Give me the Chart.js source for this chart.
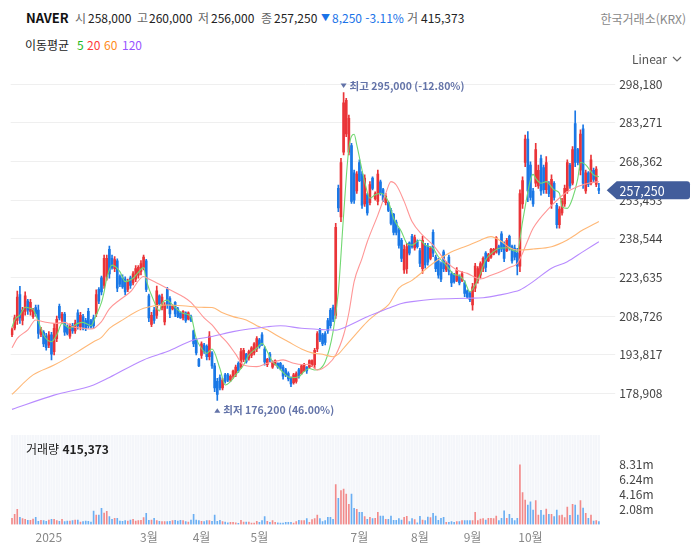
<!DOCTYPE html>
<html lang="ko">
<head>
<meta charset="utf-8">
<title>NAVER</title>
<script src="https://cdn.jsdelivr.net/npm/chart.js@4.4.1/dist/chart.umd.min.js"></script>
<style>
  html, body { margin: 0; padding: 0; background: #fff; }
  body { font-family: 'Noto Sans CJK KR', 'Noto Sans', sans-serif; }
  #wrap { position: relative; width: 698px; height: 560px; overflow: hidden; }
  canvas { position: absolute; left: 0; }
  .t { position: absolute; white-space: nowrap; font-size: 12px; line-height: 16px; color: #222; z-index: 2; }
  .g { color: #666; }
</style>
</head>
<body>
<div id="wrap">
  <canvas id="price" width="698" height="360" style="top:65px"></canvas>
  <canvas id="vol" width="698" height="135" style="top:425px"></canvas>

  <span class="t" style="left:26px;top:10px;font-weight:bold;font-size:13px;color:#111">NAVER</span>
  <span class="t g" style="left:75px;top:10px">시</span>
  <span class="t" style="left:88px;top:10px">258,000</span>
  <span class="t g" style="left:137px;top:10px">고</span>
  <span class="t" style="left:149px;top:10px">260,000</span>
  <span class="t g" style="left:198px;top:10px">저</span>
  <span class="t" style="left:211px;top:10px">256,000</span>
  <span class="t g" style="left:261px;top:10px">종</span>
  <span class="t" style="left:274px;top:10px">257,250</span>
  <span class="t" style="left:321px;top:10px;color:#1a73e8;font-size:9px">▼</span>
  <span class="t" style="left:332px;top:10px;color:#1a73e8">8,250 -3.11%</span>
  <span class="t g" style="left:407px;top:10px">거</span>
  <span class="t" style="left:421px;top:10px">415,373</span>
  <span class="t" style="right:12px;top:11px;color:#888">한국거래소(KRX)</span>

  <span class="t" style="left:25px;top:37px">이동평균</span>
  <span class="t" style="left:77px;top:37px;color:#22bb22">5</span>
  <span class="t" style="left:87px;top:37px;color:#ff3b3b">20</span>
  <span class="t" style="left:104px;top:37px;color:#ff8c1a">60</span>
  <span class="t" style="left:122px;top:37px;color:#9a55ff">120</span>

  <span class="t" style="left:632px;top:51px;color:#555">Linear</span>
  <svg style="position:absolute;left:671px;top:55px" width="12" height="8"><polyline points="2,2 6,6 10,2" fill="none" stroke="#666" stroke-width="1.2"/></svg>

  <span class="t" style="left:26px;top:441px">거래량 <b>415,373</b></span>
</div>

<script>
// daily candles, Dec 2024 - Nov 2025, prices in thousand won
const open = [
  201.5,204,207,217,207,210.5,214.5,210.5,208.5,212,
  211,201.5,202.5,201,197.5,201.5,195,200,212.5,207,
  209.5,204.5,201,205,203,210,204.5,208.5,207,210.5,
  207,208,209.5,219,223.5,220.5,224,234.5,231,227,
  230,224,223.5,223,219,223.5,221.5,223,224.5,226,
  227.5,230,216.5,205.5,211,209,216.5,212,206.5,219,
  215.5,211.5,214,211.5,210,208,210,207.5,208.5,203,
  199.5,192,193.5,197.5,197,193,194.5,189.5,183.5,185,
  181,186,186,184,185.5,186,190.5,189,192,194,
  192.5,193.5,194.5,196,199.5,201.5,196,190,194,189,
  190,190.5,190.5,189,188,186.5,185,183,183.5,188,
  186.5,187.5,189,189,189.5,190,196,203.5,201.5,202,
  207,211,212,209,258,247,272,279,272,274.5,
  264,257,268,263.5,252,255.5,252.5,262,254,253,
  260.5,257.5,252.5,252.5,249.5,248,245,242,238,226.5,
  227,237,239.5,235,237.5,234,227,236,235.5,231,
  241,231.5,230,229,233.5,226.5,231.5,225,224.5,222.5,
  224,222.5,221.5,218.5,217.5,213,219.5,222.5,224.5,227,
  233,230,231.5,232.5,233.5,235.5,240.5,236.5,234,239.5,
  235.5,235,233,228,252,268,277,267,257,260,
  259,269.5,266,257.5,260,252,260,251.5,244,248.5,
  252,257,267,260,283,273,265,281,257,264,
  260,265,259.5,258
];
const high = [
  204.2,209.1,218.4,220.2,212.1,218.1,215.2,215.2,211.7,213.0,
  213.0,204.4,203.1,202.1,202.7,202.4,205.9,208.7,213.3,210.2,
  210.2,205.3,205.7,205.9,207.2,211.1,210.2,209.4,207.8,211.7,
  207.5,209.1,218.8,219.7,224.2,232.3,232.3,235.7,232.3,231.7,
  230.8,224.6,224.6,223.9,223.0,224.2,225.9,228.2,228.2,230.1,
  232.3,230.6,217.2,210.2,212.1,220.3,216.9,217.2,213.9,219.8,
  216.2,213.0,214.3,212.1,210.4,210.8,210.4,210.4,209.1,203.3,
  200.1,192.4,198.8,198.2,197.6,202.7,195.0,190.5,184.7,186.0,
  184.7,186.6,186.6,186.0,187.9,189.8,191.1,196.3,196.3,194.3,
  195.6,196.9,198.5,200.8,200.1,202.3,196.9,192.4,194.7,191.4,
  191.8,190.7,190.9,189.8,188.5,187.2,185.3,186.6,187.2,188.5,
  189.8,190.5,189.2,191.8,191.8,196.3,202.7,204.0,202.1,202.7,
  207.8,211.7,213.0,244.5,259.3,269.6,295.0,292.8,286.3,275.4,
  265.1,264.5,269.0,264.5,263.2,256.1,260.6,262.5,256.7,265.1,
  261.2,258.0,256.1,252.9,250.3,248.4,245.8,242.6,238.7,236.1,
  236.8,237.4,240.3,240.0,238.1,234.9,239.6,236.8,236.8,235.5,
  242.0,232.3,231.0,229.7,234.2,229.7,232.3,225.9,225.2,227.4,
  224.6,225.9,222.3,218.8,218.1,221.4,229.1,227.8,229.7,231.6,
  233.6,232.9,234.9,234.9,239.4,236.1,241.3,237.4,238.7,240.0,
  236.1,236.1,234.9,257.4,262.5,278.6,279.9,268.3,258.0,275.4,
  267.0,270.9,267.0,270.3,260.6,263.2,260.6,252.2,251.0,254.2,
  259.3,269.0,267.7,274.1,287.9,273.5,280.6,282.5,265.1,264.5,
  270.9,265.8,266.4,260
];
const low = [
  200.8,203.4,205.5,205.9,205.3,209.1,209.4,209.1,207.8,208.7,
  200.1,200.8,196.9,195.6,196.5,191.8,193.7,198.8,207.2,205.9,
  201.2,201.4,200.1,202.0,202.0,203.7,203.4,203.4,203.1,204.0,
  204.0,204.0,208.5,213.5,216.9,219.4,222.6,223.3,226.8,225.9,
  218.1,220.1,219.4,216.9,218.1,219.4,220.7,222.0,223.3,224.6,
  226.5,218.1,206.6,204.6,205.9,207.8,213.0,211.1,205.3,211.7,
  208.1,211.1,208.5,208.1,207.8,207.2,206.3,207.2,206.6,196.9,
  193.7,189.2,192.4,194.3,191.8,191.8,188.5,179.5,176.2,180.2,
  180.2,182.8,183.4,183.4,184.7,185.3,187.0,188.5,191.1,190.5,
  191.7,192.7,193.7,195.0,196.3,197.3,189.8,189.2,191.1,188.5,
  189.8,188.5,187.9,184.4,185.3,183.7,181.5,182.4,182.8,184.7,
  186.2,187.3,186.6,188.5,189.2,188.5,195.0,198.8,197.3,197.6,
  202.0,204.0,206.6,207.8,249.0,245.2,270.9,278.0,270.9,252.2,
  252.2,256.1,260.6,250.3,251.0,247.7,251.6,257.4,253.5,251.6,
  255.4,252.9,251.6,249.0,243.9,240.0,240.0,234.9,229.7,225.2,
  225.2,232.3,234.9,234.2,234.9,227.8,225.2,227.2,228.4,230.4,
  231.6,225.9,223.3,222.0,225.9,225.9,224.6,220.1,221.4,222.0,
  220.7,222.0,216.2,215.6,214.3,211.0,218.1,221.4,223.3,225.9,
  225.9,229.7,231.0,232.3,233.0,232.3,233.6,229.7,233.6,234.2,
  229.1,230.4,224.6,225.9,250.3,266.4,252.9,253.5,251.0,258.7,
  258.0,255.4,256.1,256.1,254.8,250.3,253.5,242.6,242.6,247.7,
  251.0,256.1,258.0,259.3,266.4,267.1,263.2,258.0,256.1,258.7,
  259.3,260.6,258.7,256
];
const close = [
  203.5,208,216,208,211,216.5,211,214,211,209.5,
  202,203.5,198,196.5,201.5,194,204,207.5,208,209.5,
  202.5,202,205,203,206,205,209,204.5,204,205,
  204.5,205,217,214.5,218,231,231,225,227.5,230.5,
  219.5,221,220,218,222,220.5,225,227,227.5,229,
  231.5,219,208,209,207,218.5,213.5,216,213,213,
  209.5,212.5,209.5,208.5,208,210.5,207,210,207,198,
  194.5,189.5,198,195,193,201,189.5,181,178.5,181,
  184,183.5,184,185.5,187.5,189,187.5,195,195.5,191,
  195,196.5,198,200,197,198,191,192,192,191,
  191.5,189,188.5,185.5,186,184.5,182.5,186,186.5,185.5,
  189.5,190,187.5,191.5,191.5,195.5,202,199.5,198,198.5,
  203,205,207.5,243,250.5,268,291,292,285,253,
  253.5,263.5,261,251.5,262,248.5,259.5,258,256,263.5,
  256,253.5,255,249.5,244.5,241,241,236,231,234.5,
  235.5,233,235.5,239,235.5,229,238,228.5,229.5,235,
  233,227,224.5,223,227,229,226,221.5,222,226.5,
  221.5,225,217.5,216,215,220,228,227,229,231,
  227.5,232.5,234.5,234.5,239,233,234.5,231,238,235,
  230,231.5,228,256,261,277,257,254.5,252,273,
  265,257,257.5,268,256,261.5,254.5,244,250,253,
  258,268,259,273,268,268,279,260,264,259.5,
  269,261.5,265.5,257.25
];
// volume, millions of shares
const volume = [
  0.86,1.41,2.10,0.99,0.81,0.72,0.58,0.58,0.76,0.99,
  0.44,0.58,0.53,0.44,0.62,0.72,0.72,0.53,0.44,0.72,
  0.39,0.49,0.49,0.53,0.62,0.62,0.35,0.39,0.49,0.44,
  0.35,1.87,1.32,1.32,2.24,1.59,1.83,1.09,0.72,0.86,
  0.86,0.49,0.44,0.53,0.49,0.62,0.72,0.49,0.53,0.58,
  0.95,1.55,0.58,0.62,0.86,0.53,0.44,0.39,0.39,0.39,
  0.44,0.53,0.58,0.49,0.58,0.53,0.39,0.35,0.62,1.41,
  0.62,0.53,0.44,0.39,0.53,0.53,0.44,1.32,0.44,0.58,
  0.39,0.35,0.25,0.30,0.30,0.25,0.16,0.58,0.35,0.35,
  0.35,0.21,0.21,0.44,0.30,0.53,1.09,0.44,0.30,0.53,
  0.30,0.25,0.21,0.21,0.30,0.30,0.30,0.21,0.39,0.58,
  0.53,0.53,0.81,0.30,0.67,0.81,1.32,0.81,0.39,0.53,
  0.99,0.99,0.72,5.57,3.63,4.74,4.92,4.23,2.80,4.23,
  2.24,2.10,1.69,1.69,1.09,0.72,0.99,0.81,0.86,1.69,
  1.18,1.18,0.72,0.72,1.18,0.58,0.58,0.81,0.62,0.99,
  1.13,0.39,0.81,0.67,0.25,1.13,0.62,0.53,1.04,0.95,
  1.55,1.18,0.58,0.86,0.99,0.30,0.30,0.39,0.30,0.39,
  0.39,0.53,0.53,0.53,0.53,0.53,1.69,0.53,0.76,0.81,
  0.62,0.86,0.86,0.81,1.18,0.53,0.86,1.92,0.86,1.41,
  0.86,0.53,0.86,8.31,4.46,3.40,2.70,3.17,2.01,3.35,
  1.32,1.96,1.32,2.15,1.41,1.41,1.09,2.01,1.23,1.32,
  0.95,2.43,1.27,2.80,2.70,1.32,3.35,2.29,1.55,0.86,
  1.32,0.49,0.53,0.415373
];

// moving averages: [candle index, thousand won]
const ma5Pts = [[0,204.4],[1,207.2],[3,209.1],[5,212.1],[7,211.7],[8,211.3],[10,206.6],[12,201.4],[15,198.8],[17,201.4],[19,205.9],[22,204],[25,205.9],[27,206.3],[30,205],[32,209.1],[34,214],[35,218.1],[36,223.3],[38,228.4],[41,225.9],[43,222],[46,223.3],[48,225.6],[50,227.4],[51,222.6],[54,214.3],[56,210.7],[57,213.6],[59,214.9],[61,213],[65,209.8],[68,208.5],[70,200.1],[72,196.2],[74,194.3],[76,196],[79,188.5],[81,182.1],[83,183.4],[85,186],[88,189.8],[90,193.7],[93,196.3],[95,198.2],[97,195],[99,191.1],[101,189.2],[104,186],[106,184.9],[109,185.3],[111,187.3],[113,188.5],[115,187.9],[119,191.1],[122,202.7],[124,218.1],[126,247.7],[128,273.5],[130,278.9],[131,274.8],[134,260.6],[136,254.2],[138,255.5],[140,256.1],[143,252.9],[145,246.4],[148,241.3],[150,236.8],[152,236.1],[155,238.1],[157,236.1],[160,234.9],[162,231.6],[165,228.4],[168,224.8],[170,224.3],[172,222],[174,218.1],[176,220.7],[178,225.2],[180,230.4],[183,233.6],[185,234.9],[188,235.1],[190,234.2],[192,233.6],[194,245.2],[197,261.3],[198,263.4],[199,261.9],[201,260],[203,260.6],[206,257.4],[208,256.1],[209,251],[211,250.3],[213,254.2],[215,261.9],[216,268.1],[218,267.1],[221,263.2],[223,262.5]];
const ma20Pts = [[0,196.5],[2,200.1],[6,203.4],[9,207.2],[12,206.5],[16,205.9],[20,206.3],[23,204.6],[27,204],[30,203.7],[34,206.6],[37,211.5],[41,215],[45,218.1],[50,224],[52,223],[55,221.5],[59,219.4],[65,216.2],[68,214],[70,211.7],[73,208],[76,205.3],[79,201.5],[82,198.2],[85,194],[88,189.8],[93,189.2],[97,190.5],[100,191.2],[103,191.8],[107,190.5],[110,190],[113,190.1],[116,187.9],[120,190],[123,193.7],[126,201.4],[128,210],[130,222],[133,231],[135,237.4],[139,247.7],[142,256],[144,260.6],[146,259.3],[149,253],[152,245.2],[156,240],[160,236.1],[165,229.7],[169,226.5],[173,225.2],[178,223],[182,224.5],[186,226],[189,227.5],[192,229],[194,233],[196,238],[198,242.6],[204,250.3],[211,256.7],[215,258.7],[219,260],[223,260.6]];
const ma60Pts = [[0,178.5],[8,186],[16,189.8],[25,195],[31,198.8],[34,200.5],[37,204],[41,206.6],[50,211.7],[59,213],[67,212.5],[72,212.1],[76,212],[80,210],[84,208.5],[89,207.2],[93,205],[97,203.4],[101,201],[105,198.8],[110,196],[114,194.5],[118,194],[122,193],[124,194],[126,196.3],[130,201],[135,206.6],[139,210],[143,213],[147,219.5],[152,222.5],[160,229.1],[166,233],[173,235.9],[178,238],[182,239.4],[186,237.5],[189,235.2],[192,234.2],[198,234.6],[205,235.5],[211,238.1],[217,242],[223,245.2]];
const ma120Pts = [[0,172.7],[16,178.2],[31,182.1],[37,185],[50,191.8],[59,195],[69,199.5],[76,200.8],[84,202.7],[97,204.6],[102,205],[110,204],[118,203.5],[123,203.3],[127,204.6],[135,208.5],[143,211.7],[148,213.6],[152,214.3],[160,215.2],[173,215.6],[179,215.8],[186,217],[190,217.9],[193,218.8],[198,222],[205,227.2],[211,229.7],[217,233.6],[223,237.4]];

// axis ticks
const priceTicks = [178908, 193817, 208726, 223635, 238544, 253453, 268362, 283271, 298180];
const volTicks = [2.08, 4.16, 6.24, 8.31];
const monthTicks = [[14, '2025'], [52, '3월'], [72, '4월'], [94, '5월'], [132, '7월'], [155, '8월'], [175, '9월'], [197, '10월']];

const K = 1000;
const n = close.length;
const days = close.map((_, i) => i);   // trading-day index used as category
const FONT = "'Noto Sans CJK KR', 'Noto Sans', sans-serif";
Chart.defaults.font.family = FONT;

const fmt = v => String(Math.round(v)).replace(/\B(?=(\d{3})+(?!\d))/g, ',');
const up = close.map((c, i) => c >= open[i]);
const candleColors = up.map(u => u ? '#ea3438' : '#1a78e6');
const volColors = up.map(u => u ? '#f28a8a' : '#6aaef2');
const toLine = pts => pts.map(([i, v]) => ({ x: i, y: v * K }));

// keep the plot box exactly where we put it
const fixRightAxis = s => { s.width = 97.8; s.paddingTop = 0; s.paddingBottom = 0; };

function maLine(pts, color) {
  return {
    type: 'line', data: toLine(pts), borderColor: color, borderWidth: 1.1,
    pointRadius: 0, cubicInterpolationMode: 'monotone', order: 1
  };
}

const priceMarks = {
  id: 'priceMarks',
  afterDraw(chart) {
    const { ctx, chartArea, scales: { x, y } } = chart;
    const last = close[n - 1] * K;
    let hi = 0, lo = 0;
    high.forEach((v, i) => { if (v > high[hi]) hi = i; });
    low.forEach((v, i) => { if (v < low[lo]) lo = i; });
    const hiV = high[hi] * K, loV = low[lo] * K;
    const pct = ref => ((last - ref) / ref * 100).toFixed(2) + '%';

    ctx.save();
    ctx.fillStyle = '#6373a8';
    ctx.font = 'bold 10.5px ' + FONT;
    ctx.textBaseline = 'middle';
    ctx.textAlign = 'left';

    // highest
    let px = x.getPixelForValue(hi), py = y.getPixelForValue(hiV) - 7;
    ctx.beginPath();
    ctx.moveTo(px - 3, py - 2); ctx.lineTo(px + 3, py - 2); ctx.lineTo(px, py + 2.5);
    ctx.closePath(); ctx.fill();
    ctx.fillText('최고 ' + fmt(hiV) + ' (' + pct(hiV) + ')', px + 6, py);

    // lowest
    px = x.getPixelForValue(lo); py = y.getPixelForValue(loV) + 10;
    ctx.beginPath();
    ctx.moveTo(px - 3, py + 2.5); ctx.lineTo(px + 3, py + 2.5); ctx.lineTo(px, py - 2);
    ctx.closePath(); ctx.fill();
    ctx.fillText('최저 ' + fmt(loV) + ' (' + pct(loV) + ')', px + 6, py);

    // last price tag
    const ty = y.getPixelForValue(last);
    const x0 = chartArea.right + 6.5, x1 = x0 + 10, x2 = 690;
    ctx.fillStyle = '#425d9b';
    ctx.beginPath();
    ctx.moveTo(x0, ty);
    ctx.lineTo(x1, ty - 9);
    ctx.lineTo(x2 - 3, ty - 9);
    ctx.quadraticCurveTo(x2, ty - 9, x2, ty - 6);
    ctx.lineTo(x2, ty + 6);
    ctx.quadraticCurveTo(x2, ty + 9, x2 - 3, ty + 9);
    ctx.lineTo(x1, ty + 9);
    ctx.closePath();
    ctx.fill();
    ctx.fillStyle = '#fff';
    ctx.font = '12.5px ' + FONT;
    ctx.fillText(fmt(last), 619.5, ty + 0.5);
    ctx.restore();
  }
};

new Chart(document.getElementById('price'), {
  type: 'bar',
  data: {
    labels: days,
    datasets: [
      maLine(ma120Pts, '#b88bff'),
      maLine(ma60Pts, '#ffb877'),
      maLine(ma20Pts, '#ff9696'),
      maLine(ma5Pts, '#72d872'),
      {
        data: high.map((h, i) => [low[i] * K, h * K]),
        backgroundColor: candleColors, barThickness: 1, grouped: false, order: 2
      },
      {
        data: open.map((o, i) => [o * K, close[i] * K]),
        backgroundColor: candleColors, barThickness: 2, grouped: false, minBarLength: 1, order: 2
      }
    ]
  },
  options: {
    responsive: false,
    devicePixelRatio: 1,
    animation: false,
    layout: { padding: { left: 10.7, right: 0, top: 5, bottom: 5 } },
    plugins: { legend: { display: false }, tooltip: { enabled: false } },
    scales: {
      x: { type: 'category', offset: true, display: false },
      y: {
        position: 'right', min: 168600, max: 303700,
        afterFit: fixRightAxis,
        afterBuildTicks: s => { s.ticks = priceTicks.map(v => ({ value: v })); },
        grid: { color: '#efefef', tickColor: '#efefef', tickLength: 15 },
        border: { display: false },
        ticks: { color: '#444', font: { size: 12 }, padding: 4, callback: v => fmt(v) }
      }
    }
  },
  plugins: [priceMarks]
});

const volBackground = {
  id: 'volBackground',
  beforeDatasetsDraw(chart) {
    const { ctx, chartArea: a, scales: { x } } = chart;
    ctx.save();
    ctx.fillStyle = '#f4f6fa';
    for (let i = 0; i < n; i++) {
      const px = x.getPixelForValue(i);
      ctx.fillRect(px - 1.1, a.top, 2.2, a.bottom - a.top);
    }
    ctx.restore();
  }
};

new Chart(document.getElementById('vol'), {
  type: 'bar',
  data: {
    labels: days,
    datasets: [{
      data: volume.map(v => v * 1e6),
      backgroundColor: volColors, barThickness: 1
    }]
  },
  options: {
    responsive: false,
    devicePixelRatio: 1,
    animation: false,
    layout: { padding: { left: 10.7, right: 0, top: 10, bottom: 0 } },
    plugins: { legend: { display: false }, tooltip: { enabled: false } },
    scales: {
      x: {
        type: 'category', offset: true,
        afterBuildTicks: s => { s.ticks = monthTicks.map(([i]) => ({ value: i })); },
        afterFit: s => { s.height = 35.5; s.paddingLeft = 0; s.paddingRight = 0; },
        grid: { display: false, drawTicks: false },
        border: { display: false },
        ticks: {
          color: '#888', font: { size: 12 }, padding: 6, autoSkip: false, maxRotation: 0,
          callback: v => { const m = monthTicks.find(([i]) => i === v); return m ? m[1] : ''; }
        }
      },
      y: {
        position: 'right', min: 0, max: 12.47e6,
        afterFit: fixRightAxis,
        afterBuildTicks: s => { s.ticks = volTicks.map(v => ({ value: v * 1e6 })); },
        grid: { display: false, drawTicks: true, tickLength: 15 },
        border: { display: false },
        ticks: { color: '#444', font: { size: 12 }, padding: 4, callback: v => (v / 1e6).toFixed(2) + 'm' }
      }
    }
  },
  plugins: [volBackground]
});
</script>
</body>
</html>
